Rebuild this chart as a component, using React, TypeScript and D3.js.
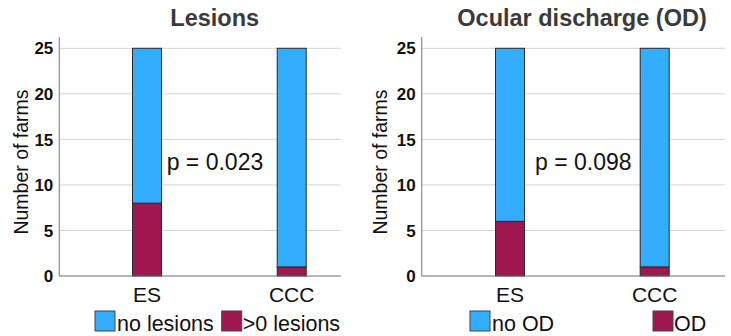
import * as d3 from 'd3';

const categories = ['ES', 'CCC'];

const lesionsPos = [8, 1];
const lesionsNeg = [17, 24];
const odPos = [6, 1];
const odNeg = [19, 24];

const yTicks = [0, 5, 10, 15, 20, 25];

const BLUE = '#33adff';
const RED = '#a0174f';
const FONT = '"Liberation Sans", Arial, sans-serif';

type PanelProps = {
	title: string;
	pValue: string;
	neg: number[];
	pos: number[];
	negLabel: string;
	posLabel: string;
	axisX: number;
	rightX: number;
	padL: number;
	padR: number;
	titleX: number;
	yLabelX: number;
	pX: number;
	legendNegX: number;
	legendPosX: number;
};

function Panel(p: PanelProps) {
	const y = d3.scaleLinear().domain([0, 25]).range([276, 48.3]);
	const x = d3
		.scalePoint<string>()
		.domain(categories)
		.range([p.axisX + p.padL, p.rightX - p.padR]);
	const barW = 29;

	const stacked = categories.map((c, i) => ({
		cat: c,
		pos: p.pos[i],
		neg: p.neg[i],
	}));

	return (
		<g>
			<text
				x={p.titleX}
				y={26}
				textAnchor='middle'
				fontFamily={FONT}
				fontWeight='bold'
				fontSize={23.5}
				fill='#3a3a3a'>
				{p.title}
			</text>

			{/* grid */}
			{yTicks
				.filter((t) => t > 0)
				.map((t) => (
					<line
						key={t}
						x1={p.axisX}
						x2={p.rightX}
						y1={y(t)}
						y2={y(t)}
						stroke='#d4d4d4'
						strokeWidth={1}
					/>
				))}

			{/* tick labels */}
			{yTicks.map((t) => (
				<text
					key={t}
					x={p.axisX - 6}
					y={y(t)}
					dy='0.36em'
					textAnchor='end'
					fontFamily={FONT}
					fontWeight='bold'
					fontSize={17}
					fill='#111'>
					{t}
				</text>
			))}

			<text
				transform={`translate(${p.yLabelX},162) rotate(-90)`}
				textAnchor='middle'
				dy='0.35em'
				fontFamily={FONT}
				fontSize={19.5}
				fill='#111'>
				Number of farms
			</text>

			{/* bars */}
			{stacked.map((d) => {
				const cx = x(d.cat)!;
				return (
					<g key={d.cat}>
						<rect
							x={cx - barW / 2}
							y={y(d.pos)}
							width={barW}
							height={y(0) - y(d.pos)}
							fill={RED}
							stroke='#2a2a2a'
							strokeWidth={1}
						/>
						<rect
							x={cx - barW / 2}
							y={y(d.pos + d.neg)}
							width={barW}
							height={y(d.pos) - y(d.pos + d.neg)}
							fill={BLUE}
							stroke='#2a2a2a'
							strokeWidth={1}
						/>
					</g>
				);
			})}

			{/* axes */}
			<line
				x1={p.axisX}
				x2={p.axisX}
				y1={37}
				y2={y(0)}
				stroke='#8c8c8c'
				strokeWidth={1.2}
			/>
			<line
				x1={p.axisX}
				x2={p.rightX}
				y1={y(0)}
				y2={y(0)}
				stroke='#6e6e6e'
				strokeWidth={1.2}
			/>

			{categories.map((c) => (
				<text
					key={c}
					x={x(c)}
					y={302}
					textAnchor='middle'
					fontFamily={FONT}
					fontSize={21}
					fill='#111'>
					{c}
				</text>
			))}

			<text
				x={p.pX}
				y={170}
				fontFamily={FONT}
				fontSize={23}
				fill='#111'>
				{p.pValue}
			</text>

			{/* legend */}
			<rect
				x={p.legendNegX}
				y={311}
				width={20}
				height={20}
				fill={BLUE}
				stroke='#444'
				strokeWidth={1}
			/>
			<text
				x={p.legendNegX + 22}
				y={331}
				fontFamily={FONT}
				fontSize={21.5}
				fill='#111'>
				{p.negLabel}
			</text>
			<rect
				x={p.legendPosX}
				y={311}
				width={20}
				height={20}
				fill={RED}
				stroke='#444'
				strokeWidth={1}
			/>
			<text
				x={p.legendPosX + 21}
				y={331}
				fontFamily={FONT}
				fontSize={21.5}
				fill='#111'>
				{p.posLabel}
			</text>
		</g>
	);
}

export default function App() {
	return (
		<svg
			width={731}
			height={336}
			style={{ position: 'absolute', left: 0, top: 0, background: '#fff' }}>
			<Panel
				title='Lesions'
				pValue='p = 0.023'
				neg={lesionsNeg}
				pos={lesionsPos}
				negLabel='no lesions'
				posLabel='>0 lesions'
				axisX={59.3}
				rightX={340.7}
				padL={87.7}
				padR={49}
				titleX={214.7}
				yLabelX={21}
				pX={166.7}
				legendNegX={95}
				legendPosX={221.7}
			/>
			<Panel
				title='Ocular discharge (OD)'
				pValue='p = 0.098'
				neg={odNeg}
				pos={odPos}
				negLabel='no OD'
				posLabel='OD'
				axisX={421.7}
				rightX={725}
				padL={88.3}
				padR={70.3}
				titleX={582}
				yLabelX={380}
				pX={535}
				legendNegX={470}
				legendPosX={653}
			/>
		</svg>
	);
}
